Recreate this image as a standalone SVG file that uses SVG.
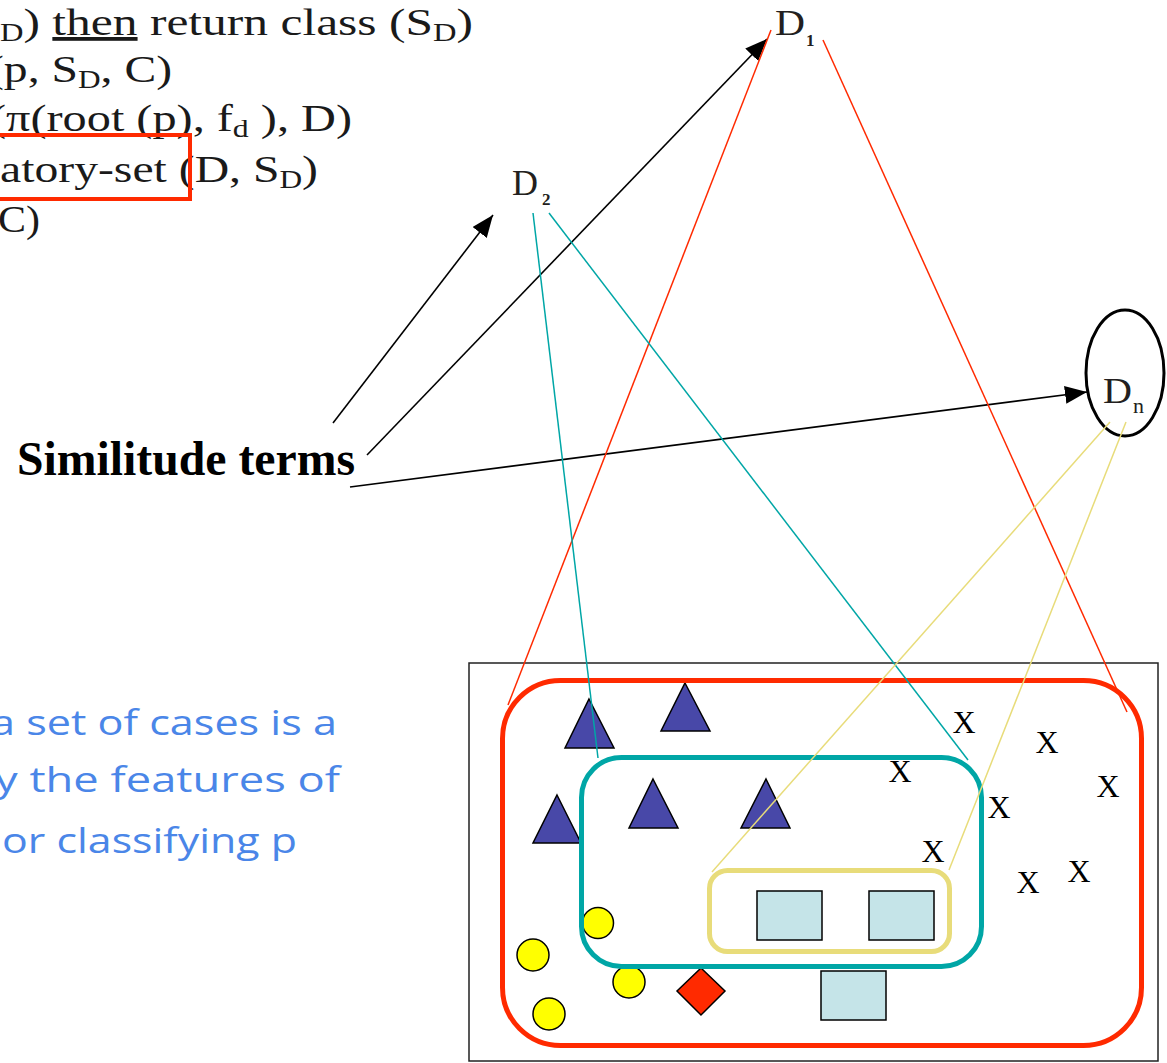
<svg xmlns="http://www.w3.org/2000/svg" width="1167" height="1063" viewBox="0 0 1167 1063">
<style>
.serif{font-family:"Liberation Serif","Times New Roman",serif;fill:#1a1a1a;}
.code{font-size:38px;}
.sub{font-size:25px;}
.lbl{font-family:"Liberation Serif","Times New Roman",serif;fill:#231f20;font-size:36px;}
.lsub{font-family:"Liberation Serif","Times New Roman",serif;fill:#231f20;}
.blue{font-family:"Open Sans","Noto Sans",sans-serif;fill:#4a86e8;font-size:34px;}
.x{font-family:"Liberation Serif","Times New Roman",serif;font-size:32px;fill:#000;text-anchor:middle;}
.tri{fill:#4848a8;stroke:#000;stroke-width:1.5;stroke-linejoin:miter;}
.circ{fill:#ffff00;stroke:#000;stroke-width:1.5;}
.sq{fill:#c5e4e8;stroke:#000;stroke-width:1.5;}
.arrow{stroke:#000;stroke-width:1.6;fill:none;}
.red{stroke:#ff2a00;stroke-width:1.5;fill:none;}
.teal{stroke:#00a6a6;stroke-width:1.5;fill:none;}
.yel{stroke:#e8dc7a;stroke-width:1.5;fill:none;}
</style>
<defs>
<marker id="ah" markerUnits="userSpaceOnUse" markerWidth="24" markerHeight="20" refX="22" refY="9" orient="auto">
<path d="M0,0 L22,9 L0,18 z" fill="#000"/>
</marker>
</defs>
<rect width="1167" height="1063" fill="#fff"/>

<g id="pseudocode">
<text class="serif code" x="0" y="35" textLength="473" lengthAdjust="spacingAndGlyphs"><tspan class="sub" dy="6">D</tspan><tspan dy="-6">) </tspan><tspan text-decoration="underline">then</tspan> return class (S<tspan class="sub" dy="6">D</tspan><tspan dy="-6">)</tspan></text>
<text class="serif code" x="-12" y="82" textLength="184" lengthAdjust="spacingAndGlyphs">(p, S<tspan class="sub" dy="6">D</tspan><tspan dy="-6">, C)</tspan></text>
<text class="serif code" x="-10" y="131" textLength="362" lengthAdjust="spacingAndGlyphs">(π(root (p), f<tspan class="sub" dy="6">d</tspan><tspan dy="-6"> ), D)</tspan></text>
<text class="serif code" x="0" y="182" textLength="318" lengthAdjust="spacingAndGlyphs">atory-set (D, S<tspan class="sub" dy="6">D</tspan><tspan dy="-6">)</tspan></text>
<text class="serif code" x="-2" y="232" textLength="42" lengthAdjust="spacingAndGlyphs">C)</text>
<rect x="-10" y="135" width="200" height="64" fill="none" stroke="#ff2a00" stroke-width="4"/>
</g>

<g id="D1">
<text class="lbl" x="775" y="35" textLength="30" lengthAdjust="spacingAndGlyphs">D</text>
<text class="lsub" x="806" y="46" style="font-size:17px;font-weight:bold">1</text>
</g>
<g id="D2">
<text class="lbl" x="512" y="195" textLength="26" lengthAdjust="spacingAndGlyphs">D</text>
<text class="lsub" x="542" y="205" style="font-size:17px;font-weight:bold">2</text>
</g>
<g id="Dn">
<ellipse cx="1125" cy="373" rx="39" ry="63" fill="#fff" stroke="#000" stroke-width="3"/>
<text class="lbl" x="1103" y="403" textLength="29" lengthAdjust="spacingAndGlyphs">D</text>
<text class="lsub" x="1133" y="413" style="font-size:22px">n</text>
</g>

<g id="similitude">
<text x="17" y="475" font-family="Liberation Serif, Times New Roman, serif" font-weight="bold" font-size="48" fill="#000" textLength="338" lengthAdjust="spacingAndGlyphs">Similitude terms</text>
</g>

<g id="note">
<text class="blue" x="-9" y="735" textLength="346" lengthAdjust="spacingAndGlyphs">a set of cases is a</text>
<text class="blue" x="-5" y="792" textLength="345" lengthAdjust="spacingAndGlyphs">y the features of</text>
<text class="blue" x="2" y="853" textLength="295" lengthAdjust="spacingAndGlyphs">or classifying p</text>
</g>

<g id="caseSpace">
<rect x="469" y="663" width="689" height="398" fill="#fff" stroke="#222" stroke-width="1.5"/>
<g id="triangles">
<polygon class="tri" points="589,699 614,748 565,748"/>
<polygon class="tri" points="685,683 710,731 661,731"/>
<polygon class="tri" points="557,795 581,843 533,843"/>
<polygon class="tri" points="653,779 678,828 629,828"/>
<polygon class="tri" points="766,779 790,828 741,828"/>
</g>
<g id="circles">
<circle class="circ" cx="598" cy="923" r="15.5"/>
<circle class="circ" cx="533" cy="955" r="16"/>
<circle class="circ" cx="629" cy="982" r="16"/>
<circle class="circ" cx="549" cy="1014" r="16"/>
</g>
<polygon id="diamond" points="701,968 725,991 701,1015 677,991" fill="#ff2a00" stroke="#000" stroke-width="1.5"/>
<g id="squares">
<rect class="sq" x="757" y="891" width="65" height="49"/>
<rect class="sq" x="869" y="891" width="65" height="49"/>
<rect class="sq" x="821" y="971" width="65" height="49"/>
</g>
<g id="xs">
<text class="x" x="964" y="733">X</text>
<text class="x" x="1047" y="753">X</text>
<text class="x" x="900" y="782">X</text>
<text class="x" x="1108" y="797">X</text>
<text class="x" x="999" y="818">X</text>
<text class="x" x="933" y="862">X</text>
<text class="x" x="1079" y="882">X</text>
<text class="x" x="1028" y="893">X</text>
</g>
<rect id="setD1" x="502.5" y="680.5" width="639" height="365" rx="58" fill="none" stroke="#ff2a00" stroke-width="5"/>
<rect id="setD2" x="581.5" y="757.5" width="400" height="209" rx="40" fill="none" stroke="#00a6a6" stroke-width="5"/>
<rect id="setDn" x="709.5" y="870.5" width="240" height="81" rx="18" fill="none" stroke="#e8dc7a" stroke-width="5"/>
</g>

<g id="connectors">
<line class="arrow" x1="333" y1="423" x2="493" y2="215" marker-end="url(#ah)"/>
<line class="arrow" x1="367" y1="455" x2="767" y2="39" marker-end="url(#ah)"/>
<line class="arrow" x1="350" y1="487" x2="1087" y2="392" marker-end="url(#ah)"/>
<line class="red" x1="771" y1="30" x2="508" y2="705"/>
<line class="red" x1="823" y1="40" x2="1127" y2="712"/>
<line class="teal" x1="533" y1="213" x2="598" y2="758"/>
<line class="teal" x1="549" y1="213" x2="968" y2="760"/>
<line class="yel" x1="1110" y1="422" x2="712" y2="872"/>
<line class="yel" x1="1126" y1="422" x2="949" y2="870"/>
</g>
</svg>
